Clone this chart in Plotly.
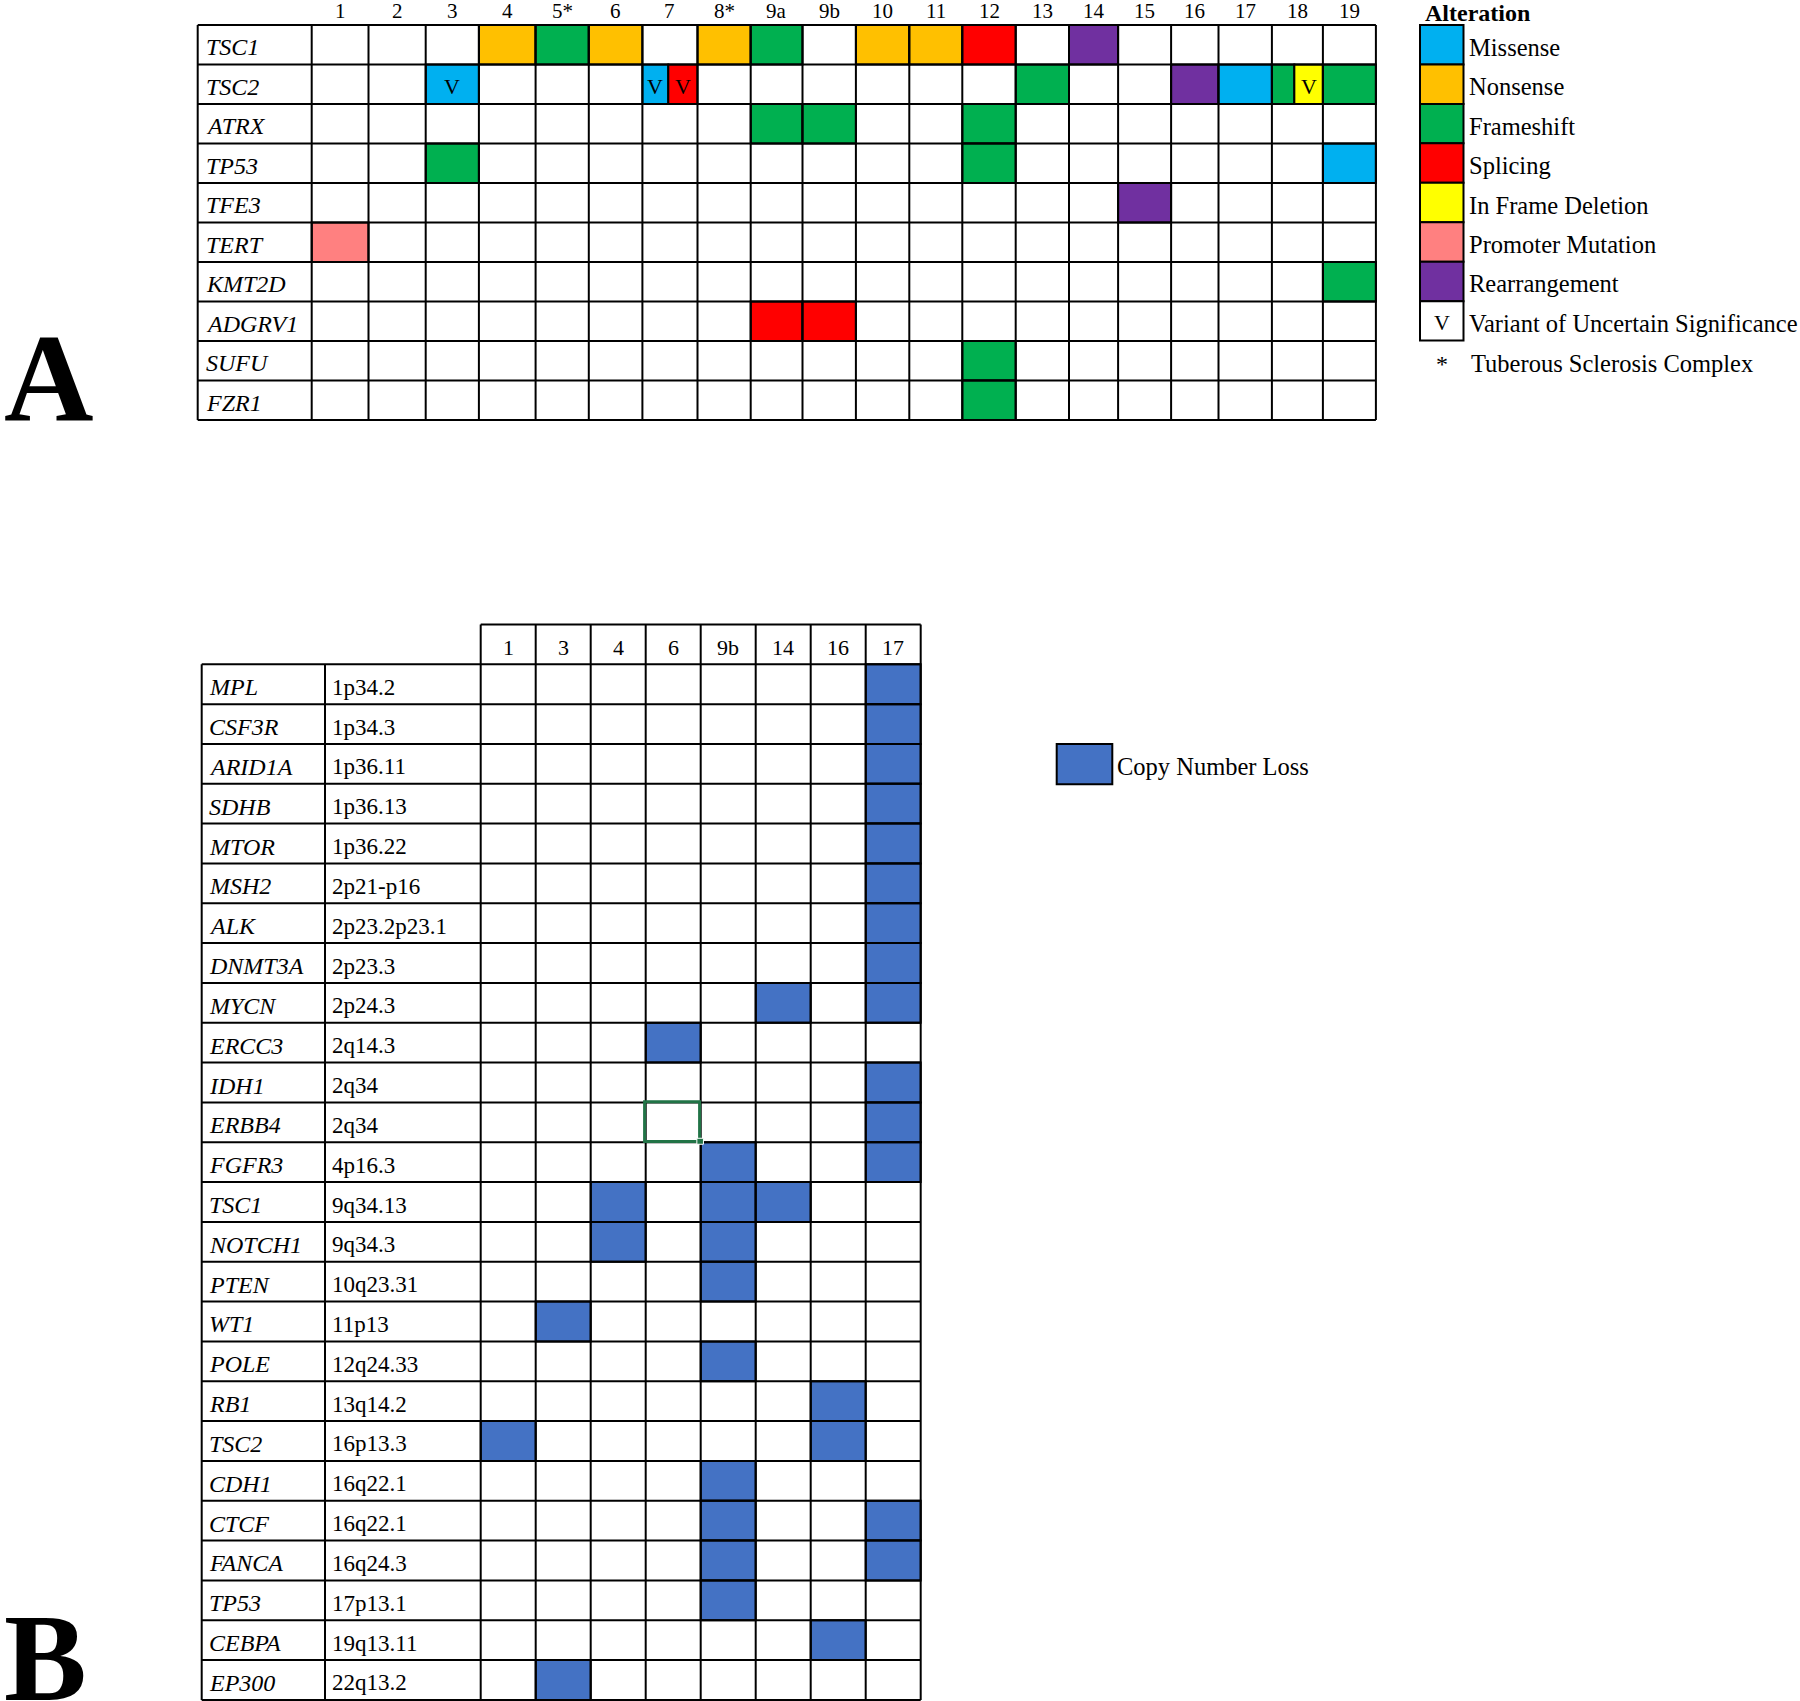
import plotly.graph_objects as go

W, H = 1800, 1701
SERIF = "Liberation Serif, Times New Roman, serif"

# ---------------- Panel A data ----------------
a_samples = ["1", "2", "3", "4", "5*", "6", "7", "8*", "9a", "9b",
             "10", "11", "12", "13", "14", "15", "16", "17", "18", "19"]
a_genes = ["TSC1", "TSC2", "ATRX", "TP53", "TFE3", "TERT", "KMT2D", "ADGRV1", "SUFU", "FZR1"]

alteration_names = ["Missense", "Nonsense", "Frameshift", "Splicing",
                    "In Frame Deletion", "Promoter Mutation", "Rearrangement"]
alteration_colors = ["#00B0F0", "#FFC000", "#00B050", "#FF0000",
                     "#FFFF00", "#FF8080", "#7030A0"]

alt_gene = ["TSC1", "TSC1", "TSC1", "TSC1", "TSC1", "TSC1", "TSC1", "TSC1", "TSC1",
            "TSC2", "TSC2", "TSC2", "TSC2", "TSC2", "TSC2", "TSC2", "TSC2", "TSC2",
            "ATRX", "ATRX", "ATRX",
            "TP53", "TP53", "TP53",
            "TFE3", "TERT", "KMT2D", "ADGRV1", "ADGRV1", "SUFU", "FZR1"]
alt_sample = ["4", "5*", "6", "8*", "9a", "10", "11", "12", "14",
              "3", "7", "7", "13", "16", "17", "18", "18", "19",
              "9a", "9b", "12",
              "3", "12", "19",
              "15", "1", "19", "9a", "9b", "12", "12"]
alt_type = ["Nonsense", "Frameshift", "Nonsense", "Nonsense", "Frameshift", "Nonsense",
            "Nonsense", "Splicing", "Rearrangement",
            "Missense", "Missense", "Splicing", "Frameshift", "Rearrangement", "Missense",
            "Frameshift", "In Frame Deletion", "Frameshift",
            "Frameshift", "Frameshift", "Frameshift",
            "Frameshift", "Frameshift", "Missense",
            "Rearrangement", "Promoter Mutation", "Frameshift", "Splicing", "Splicing",
            "Frameshift", "Frameshift"]
alt_vus = [False, False, False, False, False, False, False, False, False,
           True, True, True, False, False, False, False, True, False,
           False, False, False,
           False, False, False,
           False, False, False, False, False, False, False]
alt_part = ["full"] * 9 + ["full", "left", "right", "full", "full", "full", "left", "right", "full"] \
    + ["full"] * 13

legend_extra = ["Variant of Uncertain Significance", "Tuberous Sclerosis Complex"]

# ---------------- Panel B data ----------------
b_samples = ["1", "3", "4", "6", "9b", "14", "16", "17"]
b_genes = ["MPL", "CSF3R", "ARID1A", "SDHB", "MTOR", "MSH2", "ALK", "DNMT3A", "MYCN",
           "ERCC3", "IDH1", "ERBB4", "FGFR3", "TSC1", "NOTCH1", "PTEN", "WT1", "POLE",
           "RB1", "TSC2", "CDH1", "CTCF", "FANCA", "TP53", "CEBPA", "EP300"]
b_bands = ["1p34.2", "1p34.3", "1p36.11", "1p36.13", "1p36.22", "2p21-p16", "2p23.2p23.1",
           "2p23.3", "2p24.3", "2q14.3", "2q34", "2q34", "4p16.3", "9q34.13", "9q34.3",
           "10q23.31", "11p13", "12q24.33", "13q14.2", "16p13.3", "16q22.1", "16q22.1",
           "16q24.3", "17p13.1", "19q13.11", "22q13.2"]
b_loss = [["17"], ["17"], ["17"], ["17"], ["17"], ["17"], ["17"], ["17"], ["14", "17"],
          ["6"], ["17"], ["17"], ["9b", "17"], ["4", "9b", "14"], ["4", "9b"], ["9b"],
          ["3"], ["9b"], ["16"], ["1", "16"], ["9b"], ["9b", "17"], ["9b", "17"],
          ["9b"], ["16"], ["3"]]
b_selected = ("ERBB4", "6")   # spreadsheet selection box visible in the source
loss_label = "Copy Number Loss"
loss_color = "#4472C4"

# ---------------- styling / layout ----------------
# spreadsheet column widths (px) of panel A sample columns, as in the source sheet
a_col_w = [56.8, 57.2, 53.2, 56.7, 53.2, 53.6, 55.1, 53.2, 51.8, 53.4,
           53.4, 53.0, 53.4, 53.3, 49.1, 53.0, 47.4, 53.4, 51.0, 53.0]
split_at = {"7": 0.47, "18": 0.44}
LINE = dict(color="#000000", width=2)
SEL_GREEN = "#217346"
TXT = 24.5

fig = go.Figure()
layout = dict(width=W, height=H, margin=dict(l=0, r=0, t=0, b=0), autosize=False,
              paper_bgcolor="white", plot_bgcolor="white", showlegend=False)
shapes, annotations = [], []


def add_axes(n, px_x, px_y, ox, sx, oy, sy):
    sfx = "" if n == 1 else str(n)
    layout["xaxis" + sfx] = dict(domain=[px_x[0] / W, px_x[1] / W],
                                 range=[(px_x[0] - ox) / sx, (px_x[1] - ox) / sx],
                                 visible=False, fixedrange=True, anchor="y" + sfx)
    layout["yaxis" + sfx] = dict(domain=[1 - px_y[1] / H, 1 - px_y[0] / H],
                                 range=[(px_y[1] - oy) / sy, (px_y[0] - oy) / sy],
                                 visible=False, fixedrange=True, anchor="x" + sfx)
    fig.add_trace(go.Scatter(x=[], y=[], xaxis="x" + sfx, yaxis="y" + sfx,
                             hoverinfo="skip", showlegend=False))
    return "x" + sfx, "y" + sfx


def rect(xr, yr, x0, x1, y0, y1, fill, line=LINE):
    shapes.append(dict(type="rect", xref=xr, yref=yr, x0=x0, x1=x1, y0=y0, y1=y1,
                       fillcolor=fill, line=line, layer="above"))


def hline(xr, yr, x0, x1, y):
    shapes.append(dict(type="line", xref=xr, yref=yr, x0=x0, x1=x1, y0=y, y1=y,
                       line=LINE, layer="above"))


def vline(xr, yr, x, y0, y1):
    shapes.append(dict(type="line", xref=xr, yref=yr, x0=x, x1=x, y0=y0, y1=y1,
                       line=LINE, layer="above"))


def text(xr, yr, x, y, s, size, xanchor="center", yanchor="middle", xshift=0, yshift=0,
         italic=False, bold=False, pad=1):
    annotations.append(dict(xref=xr, yref=yr, x=x, y=y, text=s, showarrow=False,
                            xanchor=xanchor, yanchor=yanchor, xshift=xshift, yshift=yshift,
                            borderpad=pad,
                            font=dict(family=SERIF, size=size, color="black",
                                      style="italic" if italic else "normal",
                                      weight="bold" if bold else "normal")))


color_of = dict(zip(alteration_names, alteration_colors))

# ---------- Panel A (x in px from first sample column, y in rows) ----------
xa, ya = add_axes(1, (186, 1392), (0, 432), ox=311.7, sx=1.0, oy=25.0, sy=39.5)
gwA = 311.7 - 197.7
edges = [0.0]
for w in a_col_w:
    edges.append(edges[-1] + w)
nA, mA = len(a_samples), len(a_genes)
for g, s, t, v, p in zip(alt_gene, alt_sample, alt_type, alt_vus, alt_part):
    c = a_samples.index(s)
    r = a_genes.index(g)
    left, right = edges[c], edges[c + 1]
    mid = left + split_at.get(s, 0.5) * (right - left)
    x0, x1 = (left, right) if p == "full" else ((left, mid) if p == "left" else (mid, right))
    rect(xa, ya, x0, x1, r, r + 1, color_of[t])
    if v:
        text(xa, ya, (x0 + x1) / 2, r + 0.5, "V", 22, yshift=-2)
for r in range(mA + 1):
    hline(xa, ya, -gwA, edges[-1], r)
vline(xa, ya, -gwA, 0, mA)
for e in edges:
    vline(xa, ya, e, 0, mA)
for c, s in enumerate(a_samples):
    text(xa, ya, (edges[c] + edges[c + 1]) / 2, -25.0 / 39.5, s, 21, yanchor="top",
         yshift=2, pad=0)
for r, g in enumerate(a_genes):
    text(xa, ya, -gwA, r + 0.5, g, 24, xanchor="left", xshift=6, yshift=-2.5, italic=True)

# ---------- Legend A ----------
xl, yl = add_axes(3, (1400, 1800), (0, 400), ox=1420.0, sx=43.5, oy=25.0, sy=39.45)
text(xl, yl, 0.1, -25.0 / 39.45, "Alteration", 24, xanchor="left", yanchor="top",
     yshift=1, bold=True, pad=0)
for i, (nm, col) in enumerate(zip(alteration_names, alteration_colors)):
    rect(xl, yl, 0, 1, i, i + 1, col)
    text(xl, yl, 1, i + 0.5, nm, TXT, xanchor="left", xshift=3, yshift=-2.5)
k = len(alteration_names)
rect(xl, yl, 0, 1, k, k + 1, "white")
text(xl, yl, 0.5, k + 0.5, "V", 22, yshift=-2)
text(xl, yl, 1, k + 0.5, legend_extra[0], TXT, xanchor="left", xshift=3, yshift=-2.5)
text(xl, yl, 0.5, k + 1.5, "*", 24, yshift=-4)
text(xl, yl, 1, k + 1.5, legend_extra[1], TXT, xanchor="left", xshift=5, yshift=-3)

# ---------- Panel B ----------
xb, yb = add_axes(2, (190, 936), (604, 1701), ox=480.7, sx=55.0, oy=664.3, sy=39.83)
gwB = (480.7 - 201.7) / 55.0
bwB = (480.7 - 325.0) / 55.0
nB, mB = len(b_samples), len(b_genes)
for r, losses in enumerate(b_loss):
    for s in losses:
        c = b_samples.index(s)
        rect(xb, yb, c, c + 1, r, r + 1, loss_color)
for r in range(mB + 1):
    hline(xb, yb, -gwB, nB, r)
hline(xb, yb, 0, nB, -1)
vline(xb, yb, -gwB, 0, mB)
vline(xb, yb, -bwB, 0, mB)
for c in range(nB + 1):
    vline(xb, yb, c, -1, mB)
for c, s in enumerate(b_samples):
    text(xb, yb, c + 0.5, -0.42, s, 22)
for r, (g, band) in enumerate(zip(b_genes, b_bands)):
    text(xb, yb, -gwB, r + 0.5, g, 24, xanchor="left", xshift=5, yshift=-3, italic=True)
    text(xb, yb, -bwB, r + 0.5, band, 23, xanchor="left", xshift=5, yshift=-3)
# spreadsheet selection outline
sr = b_genes.index(b_selected[0])
sc = b_samples.index(b_selected[1])
rect(xb, yb, sc - 0.02, sc + 0.98, sr - 0.02, sr + 0.98, "rgba(0,0,0,0)",
     line=dict(color=SEL_GREEN, width=3))
rect(xb, yb, sc + 0.93, sc + 1.05, sr + 0.9, sr + 1.05, SEL_GREEN,
     line=dict(color="white", width=1))

# ---------- Legend B ----------
xc, yc = add_axes(4, (1040, 1400), (720, 810), ox=1056.7, sx=55.6, oy=744.0, sy=40.3)
rect(xc, yc, 0, 1, 0, 1, loss_color)
text(xc, yc, 1, 0.5, loss_label, TXT, xanchor="left", xshift=3, yshift=-2)

# ---------- panel letters ----------
for letter, ycen in (("A", 378), ("B", 1658)):
    annotations.append(dict(xref="paper", yref="paper", x=2 / W, y=1 - ycen / H,
                            text=letter, showarrow=False, xanchor="left", yanchor="middle",
                            font=dict(family=SERIF, size=124, color="black", weight="bold")))

layout["shapes"] = shapes
layout["annotations"] = annotations
fig.update_layout(**layout)

fig.write_html("out.html", config={"displayModeBar": False, "staticPlot": True},
               post_script="document.body.style.margin='0px';")
